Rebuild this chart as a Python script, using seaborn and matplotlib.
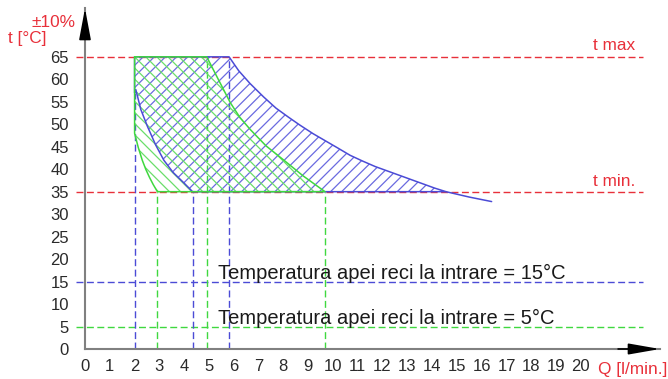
import numpy as np
import seaborn as sns
import matplotlib.pyplot as plt

# debit Q [l/min] si temperatura t [C]
q_blue_top = [5.81, 6.2, 6.65, 7.2, 7.7, 8.2, 8.67, 9.2, 9.7, 10.2, 10.69, 11.2, 11.7, 12.2, 12.7, 13.2, 13.7, 14.1, 14.56]
t_blue_top = [65, 61.9, 59.1, 56.1, 53.6, 51.6, 49.8, 47.9, 46.3, 44.7, 43.1, 41.8, 40.6, 39.6, 38.6, 37.6, 36.6, 35.8, 35]
q_blue_tail = [14.56, 15.5, 16.4]
t_blue_tail = [35, 33.8, 32.8]
q_blue_low = [2.0, 2.05, 2.25, 2.52, 2.85, 3.18, 3.55, 3.98, 4.34]
t_blue_low = [57, 57.7, 53.3, 49.5, 45.4, 42, 39.3, 37, 35]

q_green_top = [4.91, 5.3, 5.86, 6.25, 6.67, 7.3, 8.0, 8.8, 9.68]
t_green_top = [65, 60.8, 54.8, 51.5, 48.8, 45.2, 42.1, 38.5, 35]
q_green_low = [2.0, 2.15, 2.31, 2.45, 2.6, 2.75, 2.92]
t_green_low = [48, 44.8, 42, 40, 38.2, 36.6, 35]

t_max = 65
t_min = 35
t_in = [15, 5]
labels_in = ["Temperatura apei reci la intrare = 15°C",
             "Temperatura apei reci la intrare = 5°C"]
x_ticks = list(range(0, 21))
y_ticks = list(range(0, 66, 5))

blue = "#4b4bd6"
green = "#3fd83f"
red = "#e8303a"
dash = (0, (5, 2.5))

sns.set_theme(style="white")
plt.rcParams["font.family"] = ["Liberation Sans", "DejaVu Sans"]
plt.rcParams["hatch.linewidth"] = 0.9

fig = plt.figure(figsize=(6.68, 3.79), dpi=100)
ax = fig.add_axes([85 / 668, 30 / 379, 575 / 668, 340.7 / 379])
ax.set_xlim(0, 23.19)
ax.set_ylim(0, 75.8)

# linii t max / t min
ax.hlines([t_max, t_min], -0.37, 22.5, colors=red, linestyles=dash, lw=1, clip_on=False, zorder=1)
# temperatura de intrare
ax.hlines(t_in, -0.37, 22.5, colors=[blue, green], linestyles=dash, lw=1, clip_on=False, zorder=1)

# verticale punctate
ax.vlines([q_blue_low[0], q_blue_low[-1], q_blue_top[0]], 0,
          [t_blue_low[0], t_min, t_max], colors=blue, linestyles=dash, lw=1, zorder=1.5)
ax.vlines([q_green_low[-1], q_green_top[0], q_green_top[-1]], 0,
          [t_min, t_max, t_min], colors=green, linestyles=dash, lw=1, zorder=1.5)

# zona 15 C
bx = [q_blue_low[0]] + q_blue_top + q_blue_low[::-1]
by = [t_max] + t_blue_top + t_blue_low[::-1]
ax.fill(bx, by, facecolor="none", edgecolor="#6a6ae0", hatch="///", lw=0, zorder=2)
sns.lineplot(x=bx + [bx[0]], y=by + [by[0]], sort=False, estimator=None, color=blue, lw=1.1, ax=ax, zorder=3)
sns.lineplot(x=q_blue_tail, y=t_blue_tail, sort=False, estimator=None, color=blue, lw=1.1, ax=ax, zorder=3)

# zona 5 C
gx = [q_green_low[0]] + q_green_top + q_green_low[::-1]
gy = [t_max] + t_green_top + t_green_low[::-1]
ax.fill(gx, gy, facecolor="none", edgecolor="#6ade6a", hatch="\\\\\\", lw=0, zorder=2.2)
sns.lineplot(x=gx + [gx[0]], y=gy + [gy[0]], sort=False, estimator=None, color=green, lw=1.1, ax=ax, zorder=4)

for t, lab in zip(t_in, labels_in):
    ax.text(5.36, t + 0.6, lab, fontsize=14.5, color="#1a1a1a", va="baseline", ha="left", zorder=5)

ax.text(22.18, t_max + 1.5, "t max", color=red, fontsize=12.4, ha="right", va="baseline")
ax.text(22.18, t_min + 1.2, "t min.", color=red, fontsize=12.4, ha="right", va="baseline")

# axe
sns.despine(ax=ax)
for s in ["left", "bottom"]:
    ax.spines[s].set_color("#808080")
    ax.spines[s].set_linewidth(1.5)
ax.set_xticks(x_ticks)
ax.set_yticks(y_ticks)
ax.tick_params(axis="both", colors=red, length=6.5, width=1.2, direction="out", labelsize=12, labelcolor="#2a2a2a")
ax.tick_params(axis="x", pad=1)
ax.tick_params(axis="y", pad=5)
ax.grid(False)

ax.annotate("", xy=(0, 75.8), xytext=(0, 70), annotation_clip=False,
            arrowprops=dict(arrowstyle="-|>,head_length=1.6,head_width=0.3", color="black", lw=1.2, shrinkA=0, shrinkB=0))
ax.annotate("", xy=(23.19, 0), xytext=(21.5, 0), annotation_clip=False,
            arrowprops=dict(arrowstyle="-|>,head_length=1.6,head_width=0.28", color="black", lw=1.2, shrinkA=0, shrinkB=0))

fig.text(76 / 668, 1 - 26.7 / 379, "±10%", color=red, fontsize=12.4, ha="right", va="baseline")
fig.text(46.7 / 668, 1 - 43.3 / 379, "t [°C]", color=red, fontsize=12.4, ha="right", va="baseline")
fig.text(598 / 668, 1 - 374 / 379, "Q [l/min.]", color=red, fontsize=12.4, ha="left", va="baseline")

fig.savefig("out.png", dpi=100)
